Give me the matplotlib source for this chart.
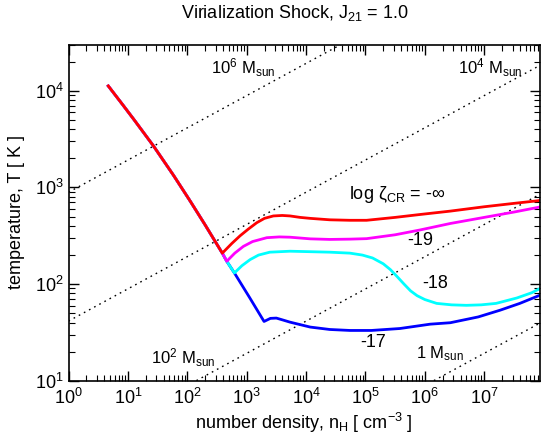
import numpy as np
import matplotlib.pyplot as plt

plt.rcParams['font.family'] = ['Liberation Sans', 'DejaVu Sans']
plt.rcParams['mathtext.fontset'] = 'custom'
plt.rcParams['mathtext.rm'] = 'Liberation Sans'
plt.rcParams['mathtext.it'] = 'Liberation Sans:italic'
plt.rcParams['mathtext.default'] = 'rm'

# log10 n_H, log10 T along each track (shared collapse branch first)
logn_shared = [0.67, 0.92, 1.10, 1.43, 1.77, 2.05, 2.30, 2.59]
logT_shared = [4.05, 3.85, 3.704, 3.43, 3.124, 2.858, 2.613, 2.32]

logn_inf = [2.75, 2.89, 3.03, 3.17, 3.30, 3.45, 3.60, 3.73, 3.90, 4.07, 4.40, 4.74,
            5.02, 5.50, 5.92, 6.43, 7.00, 7.50, 7.96]
logT_inf = [2.42, 2.50, 2.57, 2.635, 2.68, 2.705, 2.71, 2.705, 2.69, 2.68, 2.665, 2.66,
            2.66, 2.69, 2.72, 2.755, 2.80, 2.835, 2.866]

logn_19 = [2.665, 2.80, 2.945, 3.10, 3.34, 3.55, 3.73, 4.07, 4.40, 4.74, 5.02, 5.50,
           5.92, 6.43, 7.00, 7.50, 7.96]
logT_19 = [2.236, 2.32, 2.39, 2.44, 2.48, 2.488, 2.485, 2.468, 2.462, 2.465, 2.47, 2.51,
           2.56, 2.627, 2.69, 2.745, 2.80]

logn_18 = [2.665, 2.794, 2.92, 3.058, 3.20, 3.39, 3.73, 4.07, 4.40, 4.74, 4.95, 5.12,
           5.30, 5.42, 5.53, 5.65, 5.76, 5.87, 6.00, 6.20, 6.45, 6.70, 6.95, 7.20, 7.55,
           7.80, 7.96]
logT_18 = [2.236, 2.115, 2.19, 2.253, 2.30, 2.33, 2.34, 2.335, 2.33, 2.32, 2.30, 2.27,
           2.21, 2.15, 2.08, 2.00, 1.93, 1.88, 1.84, 1.80, 1.785, 1.78, 1.785, 1.80, 1.856,
           1.91, 1.96]

logn_17 = [2.665, 2.794, 3.05, 3.293, 3.40, 3.50, 3.60, 3.73, 4.07, 4.40, 4.74, 5.10,
           5.58, 6.09, 6.43, 6.90, 7.27, 7.60, 7.96]
logT_17 = [2.236, 2.115, 1.86, 1.613, 1.645, 1.648, 1.63, 1.606, 1.555, 1.53, 1.52, 1.52,
           1.54, 1.585, 1.60, 1.66, 1.73, 1.80, 1.89]

# constant Jeans mass lines: log T = c + log n / 3
jeans_masses = [6, 4, 2, 0]
jeans_offsets = [2.95, 1.617, 0.283, -1.05]
jeans_labels = [r'10$^6$ M$_{\rm sun}$', r'10$^4$ M$_{\rm sun}$',
                r'10$^2$ M$_{\rm sun}$', r'1 M$_{\rm sun}$']
jeans_label_pos = [(870, 1.75e4), (1.26e7, 1.75e4), (85, 17.5), (1.8e6, 19.0)]

xmin, xmax = 1.0, 10**7.94
ymin, ymax = 10.0, 3.0e4

fig = plt.figure(figsize=(5.41, 4.38), dpi=100)
ax = fig.add_axes([68.5 / 541, 1 - 380.7 / 438, (540 - 68.5) / 541, (380.7 - 44.7) / 438])

ngrid = np.logspace(0, 8.2, 200)
for c in jeans_offsets:
    ax.plot(ngrid, 10**(c + np.log10(ngrid) / 3.0), color='black', lw=1.0,
            ls=(0, (1.2, 3.0)))
for lab, (px, py) in zip(jeans_labels, jeans_label_pos):
    ax.text(px, py, lab, fontsize=12, ha='center', va='center')


def track(logn, logT, with_shared=True):
    if with_shared:
        logn = logn_shared + logn
        logT = logT_shared + logT
    return 10**np.array(logn), 10**np.array(logT)


n, T = track(logn_17, logT_17)
ax.plot(n, T, color='#0000ff', lw=2.0)
n, T = track(logn_18, logT_18)
ax.plot(n, T, color='#00ffff', lw=2.0)
n, T = track(logn_19, logT_19)
ax.plot(n, T, color='#ff00ff', lw=2.0)
n, T = track(logn_inf, logT_inf)
ax.plot(n, T, color='#ff0000', lw=2.0)

ax.text(3.4e5, 8.5e2, r'log ζ$_{\rm CR}$ = -∞', fontsize=13, ha='center', va='center')
ax.text(8.3e5, 2.8e2, '-19', fontsize=13, ha='center', va='center')
ax.text(1.5e6, 1.02e2, '-18', fontsize=13, ha='center', va='center')
ax.text(1.35e5, 25, '-17', fontsize=13, ha='center', va='center')

ax.set_xscale('log')
ax.set_yscale('log')
ax.set_xlim(xmin, xmax)
ax.set_ylim(ymin, ymax)
ax.tick_params(which='both', direction='in', top=True, right=True, labelsize=13)
ax.tick_params(which='major', length=7, width=1)
ax.tick_params(which='minor', length=4, width=0.8)
ax.tick_params(axis='x', which='major', pad=5)
ax.xaxis.set_major_locator(plt.LogLocator(base=10, numticks=12))
ax.xaxis.set_minor_locator(plt.LogLocator(base=10, subs=np.arange(2, 10), numticks=12))
for s in ax.spines.values():
    s.set_linewidth(1.2)

ax.set_xlabel(r'number density, n$_{\rm H}$ [ cm$^{-3}$ ]', fontsize=13, labelpad=2)
fig.text(17 / 541, 1 - 212 / 438, 'temperature, T [ K ]', fontsize=13, rotation=90,
         ha='center', va='center')
fig.text(0.545, 0.97, r'Virialization Shock, J$_{21}$ = 1.0', fontsize=13,
         ha='center', va='center')

fig.savefig('out.png', dpi=100)
